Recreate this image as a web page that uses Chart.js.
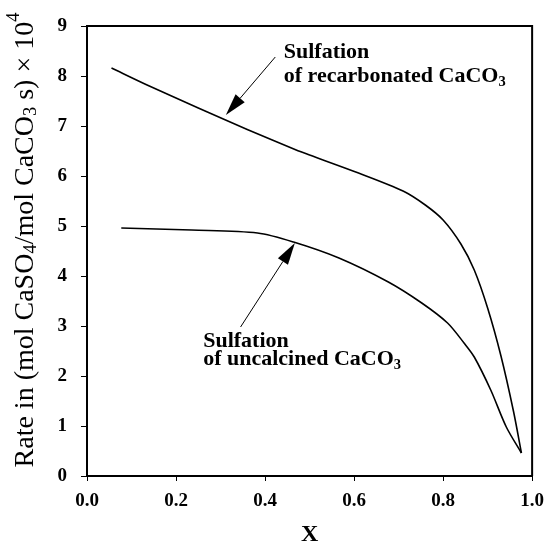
<!DOCTYPE html>
<html>
<head>
<meta charset="utf-8">
<title>Sulfation rate</title>
<script src="https://cdn.jsdelivr.net/npm/chart.js@4.4.1/dist/chart.umd.min.js"></script>
<style>
    html, body { margin: 0; padding: 0; background: #fff; }
    #wrap { width: 553px; height: 542px; }
</style>
</head>
<body>
<div id="wrap"><canvas id="rateChart" width="553" height="542"></canvas></div>
<script>
// Sulfation of recarbonated CaCO3
const recarbX = [0.055, 0.14, 0.25, 0.36, 0.47, 0.50, 0.61, 0.71, 0.76, 0.80, 0.84, 0.87, 0.90, 0.93, 0.958, 0.976];
const recarbY = [8.16, 7.80, 7.36, 6.93, 6.52, 6.42, 6.06, 5.70, 5.42, 5.12, 4.64, 4.12, 3.36, 2.40, 1.30, 0.46];

// Sulfation of uncalcined CaCO3
const uncalcX = [0.077, 0.235, 0.383, 0.464, 0.566, 0.677, 0.752, 0.81, 0.847, 0.87, 0.907, 0.942, 0.976];
const uncalcY = [4.96, 4.92, 4.86, 4.68, 4.36, 3.88, 3.46, 3.06, 2.66, 2.38, 1.72, 0.98, 0.46];

const xTicks = [0.0, 0.2, 0.4, 0.6, 0.8, 1.0];
const yTicks = [0, 1, 2, 3, 4, 5, 6, 7, 8, 9];

// annotation arrows, in data units: [fromX, fromY, tipX, tipY]
const recarbArrow = [0.423, 8.38, 0.312, 7.22];
const uncalcArrow = [0.345, 2.98, 0.467, 4.66];

const SERIF = '"Liberation Serif", "Times New Roman", serif';

function toPoints(xs, ys) {
    return xs.map((x, i) => ({ x: x, y: ys[i] }));
}

// draws text runs, some of them lowered or raised
function drawRuns(ctx, runs, x, y, size, weight) {
    let cx = x;
    runs.forEach(run => {
        const small = run[1] ? size * 0.66 : size;
        ctx.font = weight + ' ' + small + 'px ' + SERIF;
        let dy = 0;
        if (run[1] === 'sub') dy = size * 0.2;
        if (run[1] === 'sup') dy = -size * 0.42;
        ctx.fillText(run[0], cx, y + dy);
        cx += ctx.measureText(run[0]).width;
    });
    return cx - x;
}

function runsWidth(ctx, runs, size, weight) {
    let w = 0;
    runs.forEach(run => {
        const small = run[1] ? size * 0.66 : size;
        ctx.font = weight + ' ' + small + 'px ' + SERIF;
        w += ctx.measureText(run[0]).width;
    });
    return w;
}

function drawArrow(ctx, x0, y0, x1, y1) {
    const ang = Math.atan2(y1 - y0, x1 - x0);
    const headLen = 22, headHalf = 6;
    const bx = x1 - headLen * Math.cos(ang);
    const by = y1 - headLen * Math.sin(ang);
    ctx.beginPath();
    ctx.moveTo(x0, y0);
    ctx.lineTo(bx, by);
    ctx.lineWidth = 1;
    ctx.stroke();
    ctx.beginPath();
    ctx.moveTo(x1, y1);
    ctx.lineTo(bx + headHalf * Math.sin(ang), by - headHalf * Math.cos(ang));
    ctx.lineTo(bx - headHalf * Math.sin(ang), by + headHalf * Math.cos(ang));
    ctx.closePath();
    ctx.fill();
}

const decorations = {
    id: 'decorations',
    afterDraw(chart) {
        const ctx = chart.ctx;
        const area = chart.chartArea;
        const xs = chart.scales.x, ys = chart.scales.y;
        ctx.save();
        ctx.strokeStyle = '#000';
        ctx.fillStyle = '#000';

        // top and right edges of the frame
        ctx.lineWidth = 2;
        ctx.beginPath();
        ctx.moveTo(area.left, area.top);
        ctx.lineTo(area.right, area.top);
        ctx.lineTo(area.right, area.bottom);
        ctx.stroke();

        [recarbArrow, uncalcArrow].forEach(a => {
            drawArrow(ctx, xs.getPixelForValue(a[0]), ys.getPixelForValue(a[1]),
                xs.getPixelForValue(a[2]), ys.getPixelForValue(a[3]));
        });

        // curve labels
        ctx.textBaseline = 'alphabetic';
        ctx.textAlign = 'left';
        const lx1 = xs.getPixelForValue(0.442);
        drawRuns(ctx, [['Sulfation']], lx1, ys.getPixelForValue(8.36), 22, 'bold');
        drawRuns(ctx, [['of recarbonated CaCO'], ['3', 'sub']], lx1, ys.getPixelForValue(7.88), 22, 'bold');
        const lx2 = xs.getPixelForValue(0.261);
        drawRuns(ctx, [['Sulfation']], lx2, ys.getPixelForValue(2.58), 22, 'bold');
        drawRuns(ctx, [['of uncalcined CaCO'], ['3', 'sub']], lx2, ys.getPixelForValue(2.22), 22, 'bold');

        // x axis title
        ctx.font = 'bold 24px ' + SERIF;
        ctx.textAlign = 'center';
        ctx.fillText('X', (area.left + area.right) / 2, 541);

        // y axis title, rotated
        const yTitle = [['Rate in (mol CaSO'], ['4', 'sub'], ['/mol CaCO'], ['3', 'sub'], [' s) \u00d7 10'], ['4', 'sup']];
        ctx.textAlign = 'left';
        ctx.textBaseline = 'middle';
        ctx.translate(26, 240);
        ctx.rotate(-Math.PI / 2);
        const w = runsWidth(ctx, yTitle, 28, 'normal');
        drawRuns(ctx, yTitle, -w / 2, 0, 28, 'normal');
        ctx.restore();
    }
};

const ctx = document.getElementById('rateChart').getContext('2d');
new Chart(ctx, {
    type: 'line',
    data: {
        datasets: [
            {
                label: 'Sulfation of recarbonated CaCO3',
                data: toPoints(recarbX, recarbY),
                borderColor: '#000',
                borderWidth: 1.6,
                pointRadius: 0,
                fill: false,
                tension: 0.3
            },
            {
                label: 'Sulfation of uncalcined CaCO3',
                data: toPoints(uncalcX, uncalcY),
                borderColor: '#000',
                borderWidth: 1.6,
                pointRadius: 0,
                fill: false,
                tension: 0.3
            }
        ]
    },
    options: {
        responsive: false,
        devicePixelRatio: 1,
        animation: false,
        layout: { padding: { top: 26, right: 14, left: 0, bottom: 0 } },
        plugins: {
            legend: { display: false },
            tooltip: { enabled: false }
        },
        scales: {
            x: {
                type: 'linear',
                min: 0,
                max: 1,
                afterBuildTicks: scale => { scale.ticks = xTicks.map(v => ({ value: v })); },
                afterFit: scale => { scale.height = 66; },
                ticks: {
                    callback: v => Number(v).toFixed(1),
                    color: '#000',
                    padding: 9,
                    maxRotation: 0,
                    font: { family: SERIF, size: 19, weight: 'bold' }
                },
                grid: { drawOnChartArea: false, drawTicks: true, tickLength: 5, color: '#000', lineWidth: 1 },
                border: { display: true, color: '#000', width: 2 }
            },
            y: {
                min: 0,
                max: 9,
                afterBuildTicks: scale => { scale.ticks = yTicks.map(v => ({ value: v })); },
                afterFit: scale => { scale.width = 87; },
                ticks: {
                    color: '#000',
                    padding: 14,
                    font: { family: SERIF, size: 19, weight: 'bold' }
                },
                grid: { drawOnChartArea: false, drawTicks: true, tickLength: 6, color: '#000', lineWidth: 1 },
                border: { display: true, color: '#000', width: 2 }
            }
        }
    },
    plugins: [decorations]
});
</script>
</body>
</html>
